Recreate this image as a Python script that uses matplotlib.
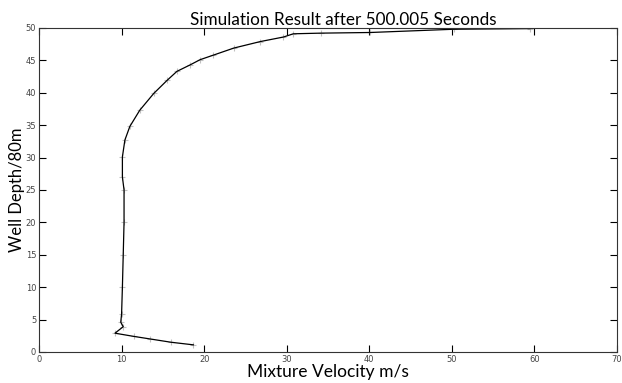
import matplotlib.pyplot as plt

# velocity (m/s) vs well depth (/80 m)
velocity = [18.7, 16.0, 13.5, 11.5, 9.2, 10.2, 9.9, 10.0, 10.1, 10.2, 10.3, 10.3,
            10.1, 10.1, 10.4, 11.0, 12.2, 13.9, 15.5, 16.7, 18.3, 19.5, 21.1,
            23.6, 26.8, 29.6, 30.8, 34.1, 40.1, 50.2, 59.5]
depth = [1.1, 1.5, 2.0, 2.4, 2.9, 3.9, 4.6, 5.8, 10.0, 15.0, 20.0, 25.0,
         27.0, 30.1, 32.7, 34.8, 37.3, 39.9, 41.9, 43.3, 44.3, 45.1, 45.8,
         46.9, 47.9, 48.6, 49.1, 49.2, 49.3, 49.8, 49.9]

xticks = list(range(0, 71, 10))
yticks = list(range(0, 51, 5))

fig = plt.figure(figsize=(6.22, 3.83), dpi=100)
ax = fig.add_axes([0.0627, 0.081, 0.9293, 0.846])

ax.plot(velocity, depth, linestyle="none", marker="+", markersize=5,
        color="#c0c0c0", markeredgewidth=0.8)
ax.plot(velocity, depth, color="black", linewidth=0.9)

ax.set_xlim(0, 70)
ax.set_ylim(0, 50)
ax.set_xticks(xticks)
ax.set_yticks(yticks)
ax.tick_params(direction="in", length=5, width=0.8, labelsize=6,
               labelcolor="#444444", top=True, right=True, pad=2)
for s in ax.spines.values():
    s.set_linewidth(0.8)
    s.set_color("#333333")

ax.set_title("Simulation Result after 500.005 Seconds", fontsize=12.3,
             family="Lato", pad=2, x=0.526)
ax.set_xlabel("Mixture Velocity m/s", fontsize=12.5, family="Lato", labelpad=0)
ax.set_ylabel("Well Depth/80m", fontsize=12, family="Lato", labelpad=0.5)

fig.savefig("out.png", dpi=100)
